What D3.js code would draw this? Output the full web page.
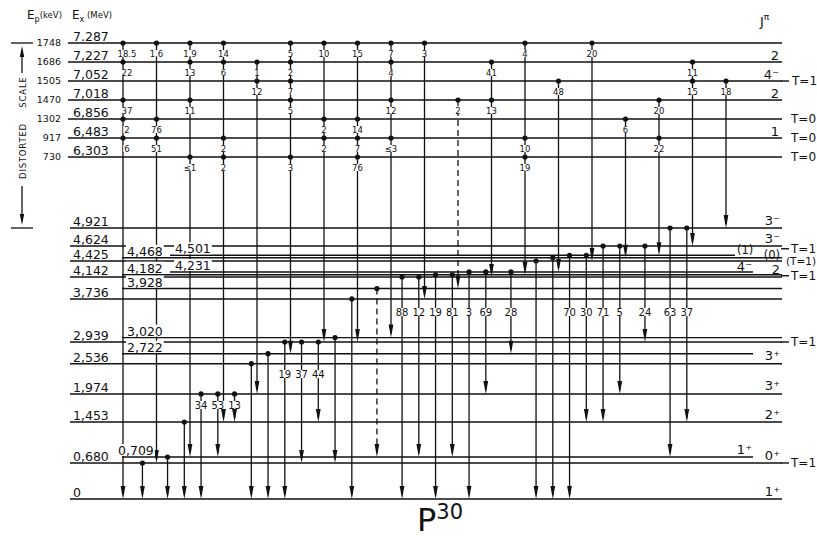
<!DOCTYPE html>
<html>
<head>
<meta charset="utf-8">
<script src="https://cdn.jsdelivr.net/npm/d3@7"></script>
<style>
body { margin: 0; background: #fff; }
text { font-family: "DejaVu Sans", sans-serif; fill: #111; }
</style>
</head>
<body>
<div id="chart"></div>
<script>
// Resonances (upper part, distorted scale)
const resEx = [7.287, 7.227, 7.052, 7.018, 6.856, 6.483, 6.303];
const resLabel = ["7.287", "7,227", "7,052", "7,018", "6,856", "6,483", "6,303"];
const resEp = [1748, 1686, 1505, 1470, 1302, 917, 730];
const resJ = ["", "2", "4⁻", "2", "", "1", ""];
const resT = ["", "", "T=1", "", "T=0", "T=0", "T=0"];

// Bound levels of P30 (MeV)
const levelEx = [0, 0.680, 0.709, 1.453, 1.974, 2.536, 2.722, 2.939, 3.020, 3.736,
                 3.928, 4.142, 4.182, 4.231, 4.425, 4.468, 4.501, 4.624, 4.921];
const levelLabel = ["0", "0,680", "0,709", "1,453", "1,974", "2,536", "2,722", "2,939", "3,020", "3,736",
                    "3,928", "4,142", "4,182", "4,231", "4,425", "4,468", "4,501", "4,624", "4,921"];
const levelTier = [0, 0, 1, 0, 0, 0, 1, 0, 1, 0, 1, 0, 1, 2, 0, 1, 2, 0, 0];
const levelJ = ["1⁺", "0⁺", "1⁺", "2⁺", "3⁺", "3⁺", "", "", "", "",
                "", "", "2", "4⁻", "", "(0)", "(1)", "3⁻", "3⁻"];
const levelT = ["", "T=1", "", "", "", "", "", "T=1", "", "",
                "", "", "T=1", "", "(T=1)", "T=1", "", "", ""];
const shortLevels = [0.709, 2.722, 4.231, 4.501];

// Primary gammas: final level, feeding resonances and branchings (%)
const primaryTo = [0, 0.680, 0.709, 1.453, 1.974, 2.722, 2.939, 2.939, 3.020, 3.736,
                   3.928, 4.142, 4.182, 4.231, 4.425, 4.468, 4.501, 4.624, 4.921];
const primaryFrom = [
  [7.287, 7.227, 7.018, 6.856, 6.483],
  [7.287, 6.856, 6.483],
  [7.287, 7.227, 7.018, 6.303],
  [7.287, 7.227, 6.483, 6.303],
  [7.227, 7.052],
  [7.287, 7.227, 7.052, 7.018, 6.303],
  [7.287, 6.856, 6.483],
  [7.287, 6.856, 6.483, 6.303],
  [7.287, 7.227, 7.018, 6.483],
  [7.287],
  [7.018],
  [7.227, 7.018],
  [7.287, 6.483, 6.303],
  [7.052],
  [7.287],
  [6.856],
  [7.018, 6.483],
  [7.227, 7.052],
  [7.052]
];
const primaryBr = [
  ["18.5", "22", "37", "2", "6"],
  ["1.6", "76", "51"],
  ["1.9", "13", "11", "≤1"],
  ["14", "6", "2", "2"],
  ["1", "12"],
  ["5", "2", "7", "5", "3"],
  ["10", "2", "2"],
  ["15", "14", "7", "76"],
  ["7", "4", "12", "≤3"],
  ["3"],
  ["2"],
  ["41", "13"],
  ["4", "10", "19"],
  ["48"],
  ["20"],
  ["6"],
  ["20", "22"],
  ["11", "15"],
  ["18"]
];
const primaryDashed = [10];

// Secondary gammas between bound levels; gap = primary column to their left
const gammaFrom = [0.680, 0.709, 1.453, 1.974, 1.974, 1.974, 2.536, 2.722, 2.939, 2.939,
                   2.939, 3.020, 3.736, 3.928, 4.142, 4.142, 4.182, 4.182, 4.231, 4.231,
                   4.231, 4.425, 4.468, 4.501, 4.501, 4.624, 4.624, 4.624, 4.921, 4.921];
const gammaTo = [0, 0, 0, 0, 0.709, 1.453, 0, 0, 0, 0.680,
                 1.453, 0.680, 0, 0.709, 0, 0.709, 0, 0.709, 0, 1.974,
                 2.722, 0, 0, 0, 1.453, 1.453, 1.974, 2.939, 0.709, 1.453];
const gammaBr = ["", "", "", "34", "53", "13", "", "", "19", "37",
                 "44", "", "", "", "88", "12", "19", "81", "3", "69",
                 "28", "", "", "70", "30", "71", "5", "24", "63", "37"];
const gammaGap = [0, 1, 1, 2, 2, 3, 3, 4, 4, 5,
                  5, 6, 6, 7, 8, 8, 9, 9, 10, 10,
                  11, 12, 12, 13, 13, 14, 14, 15, 16, 16];
const gammaDashed = [13];

// Scales
const yRes = d3.scalePoint().domain(resEx).range([43, 157]);
const yLow = d3.scaleLinear()
    .domain([0, 0.680, 0.709, 1.453, 2.939, 4.142, 4.425, 4.624, 4.921])
    .range([499, 463, 457, 422, 342, 277, 261, 246, 228]);
const colX = d3.scalePoint().domain(d3.range(primaryTo.length)).range([123, 726]);

const svg = d3.select("#chart")
    .append("svg")
    .attr("width", 817)
    .attr("height", 538);

const gLines = svg.append("g").attr("stroke", "#111").attr("stroke-width", 1.4);
const gVert = svg.append("g").attr("stroke", "#111").attr("stroke-width", 1.3);
const gLab = svg.append("g");
const gMark = svg.append("g").attr("fill", "#111");
const gLevLab = svg.append("g");

// text with a white patch behind it (breaks the lines as in the original)
function bgText(parent, x, y, str, size, anchor) {
    const t = parent.append("text")
        .attr("x", x).attr("y", y)
        .attr("text-anchor", anchor || "middle")
        .attr("font-size", size)
        .text(str);
    const b = t.node().getBBox();
    parent.insert("rect", () => t.node())
        .attr("x", b.x - 1).attr("y", b.y + 1)
        .attr("width", b.width + 2).attr("height", b.height - 3)
        .attr("fill", "#fff");
    return t;
}

function arrowHead(x, yTip) {
    gMark.append("path")
        .attr("d", `M${x},${yTip} L${x - 2.4},${yTip - 13} L${x + 2.4},${yTip - 13} Z`);
}

function dot(x, y) {
    gMark.append("circle").attr("cx", x).attr("cy", y).attr("r", 2.6);
}

// isospin label, with a short dash from the level end when it reads "T=..."
function isoLabel(x, yc, str, size) {
    if (str.startsWith("T=")) {
        gLines.append("line").attr("x1", 781).attr("x2", 789).attr("y1", yc).attr("y2", yc);
    }
    gLevLab.append("text")
        .attr("x", x).attr("y", yc).attr("dy", "0.36em")
        .attr("font-family", "Liberation Sans").attr("font-size", size || 12)
        .text(str);
}

// Resonance levels
resEx.forEach((e, i) => {
    const y = yRes(e);
    gLines.append("line")
        .attr("x1", 68).attr("x2", 782)
        .attr("y1", y).attr("y2", y);
    gLevLab.append("text")
        .attr("x", 61).attr("y", y).attr("dy", "0.35em")
        .attr("text-anchor", "end")
        .attr("font-family", "Liberation Sans")
        .attr("font-size", 9.5)
        .text(resEp[i]);
    bgText(gLevLab, 73, y - 2, resLabel[i], 12.5, "start");
    if (resJ[i]) {
        gLevLab.append("text")
            .attr("x", 779).attr("y", y - 2.5)
            .attr("text-anchor", "end").attr("font-size", 13)
            .text(resJ[i]);
    }
    if (resT[i] === "T=1") isoLabel(792, y, resT[i]);
    else if (resT[i]) {
        gLevLab.append("text")
            .attr("x", 791).attr("y", y).attr("dy", "0.36em")
            .attr("font-family", "Liberation Sans").attr("font-size", 12)
            .text(resT[i]);
    }
});

// Bound levels
const tierStart = [70, 122, 170];
levelEx.forEach((e, i) => {
    const y = yLow(e);
    const t = levelT[i];
    let x2 = 782;
    if (shortLevels.includes(e)) x2 = e === 4.501 ? 735 : 753;
    gLines.append("line")
        .attr("x1", tierStart[levelTier[i]]).attr("x2", x2)
        .attr("y1", y).attr("y2", y);
    const lx = levelTier[i] === 0 ? 73 : tierStart[levelTier[i]] + (e === 0.709 ? -4 : 5);
    bgText(gLevLab, lx, y - 2, levelLabel[i], 12.5, "start");
    const j = levelJ[i];
    if (j) {
        const after = e === 4.501;
        const paren = j.startsWith("(");
        // labels in the crowded 4.1-4.3 MeV band sit closer to their line
        const crowded = e > 4.1 && e < 4.3;
        gLevLab.append("text")
            .attr("x", after ? x2 + 2 : (x2 < 760 ? x2 - 1 : 780))
            .attr("y", after ? y - 1.5 : (paren ? y + 1 : (crowded ? y - 1.2 : y - 3.5)))
            .attr("text-anchor", after ? "start" : "end")
            .attr("font-size", paren ? 11.5 : 13)
            .text(j);
    }
    if (t === "(T=1)") {
        isoLabel(786, y + 0.5, t, 10.5);
    } else if (t) {
        // a T label next to a bracketed spin is lifted, the 4.182 one lowered a bit
        const shift = levelJ[i].startsWith("(") ? -9 : (e > 4 ? 1 : 0);
        isoLabel(791, y + shift, t);
    }
});

// Primary gammas from the resonances
primaryTo.forEach((to, i) => {
    const x = colX(i);
    const froms = primaryFrom[i];
    const yTop = yRes(d3.max(froms));
    const yEnd = yLow(to);
    const ln = gVert.append("line")
        .attr("x1", x).attr("x2", x)
        .attr("y1", yTop).attr("y2", yEnd - 4);
    if (primaryDashed.includes(i)) ln.attr("stroke-dasharray", "6,4");
    froms.forEach((f, k) => {
        dot(x, yRes(f));
        bgText(gLab, x + (i === 0 ? 4 : 0), yRes(f) + 14, primaryBr[i][k], 8.5);
    });
    arrowHead(x, yEnd);
});

// Secondary gammas
const gapCount = d3.rollup(gammaGap, v => v.length, d => d);
const gapSeen = new Map();
gammaFrom.forEach((from, i) => {
    const g = gammaGap[i];
    const n = gapCount.get(g);
    const j = gapSeen.get(g) || 0;
    gapSeen.set(g, j + 1);
    const t = 0.58 + (j - (n - 1) / 2) * 0.5;
    const x = colX(g) + t * colX.step();
    const y1 = yLow(from);
    const y2 = yLow(gammaTo[i]);
    const ln = gVert.append("line")
        .attr("x1", x).attr("x2", x)
        .attr("y1", y1).attr("y2", y2 - 4);
    if (gammaDashed.includes(i)) ln.attr("stroke-dasharray", "6,4");
    dot(x, y1);
    arrowHead(x, y2);
    if (gammaBr[i]) {
        const ly = from > 4 ? yLow(3.736) + 17 : (from > 2.5 ? y1 + 36 : y1 + 15);
        bgText(gLab, x, ly, gammaBr[i], 10);
    }
});

// Headers
const hE = svg.append("text").attr("x", 27).attr("y", 19).attr("font-size", 12);
hE.append("tspan").text("E");
hE.append("tspan").attr("font-size", 8).attr("dy", 3).text("p");
hE.append("tspan").attr("font-size", 8.5).attr("dy", -4).text("(keV)");
const hX = svg.append("text").attr("x", 72).attr("y", 19).attr("font-size", 12);
hX.append("tspan").text("E");
hX.append("tspan").attr("font-size", 8).attr("dy", 3).text("x");
hX.append("tspan").attr("font-size", 8.5).attr("dy", -4).text(" (MeV)");
const hJ = svg.append("text").attr("x", 760).attr("y", 26).attr("font-size", 13);
hJ.append("tspan").text("J");
hJ.append("tspan").attr("font-size", 9).attr("dy", -6).text("π");

// Distorted scale marker
const sc = svg.append("g").attr("stroke", "#111").attr("stroke-width", 1.3);
const yTopBar = yRes(resEx[0]);
const yBotBar = yLow(4.921);
sc.append("line").attr("x1", 11).attr("x2", 33).attr("y1", yTopBar).attr("y2", yTopBar);
sc.append("line").attr("x1", 11).attr("x2", 33).attr("y1", yBotBar).attr("y2", yBotBar);
sc.append("line").attr("x1", 22).attr("x2", 22).attr("y1", 73).attr("y2", 52);
sc.append("line").attr("x1", 22).attr("x2", 22).attr("y1", 186).attr("y2", 216);
svg.append("path").attr("fill", "#111")
    .attr("d", `M22,${yTopBar + 3} L19.8,${yTopBar + 14} L24.2,${yTopBar + 14} Z`);
svg.append("path").attr("fill", "#111")
    .attr("d", `M22,${yBotBar - 3} L19.8,${yBotBar - 14} L24.2,${yBotBar - 14} Z`);
svg.append("text")
    .attr("transform", "translate(23,92) rotate(-90)")
    .attr("text-anchor", "middle").attr("dy", "0.35em")
    .attr("font-size", 8.5).attr("letter-spacing", 0.8)
    .text("SCALE");
svg.append("text")
    .attr("transform", "translate(23,151) rotate(-90)")
    .attr("text-anchor", "middle").attr("dy", "0.35em")
    .attr("font-size", 8.5).attr("letter-spacing", 0.8)
    .text("DISTORTED");

// Nucleus label
const nuc = svg.append("text").attr("x", 417).attr("y", 531)
    .attr("font-family", "Liberation Sans").attr("font-size", 32);
nuc.append("tspan").text("P");
nuc.append("tspan").attr("font-size", 21).attr("dy", -12).text("30");
</script>
</body>
</html>
